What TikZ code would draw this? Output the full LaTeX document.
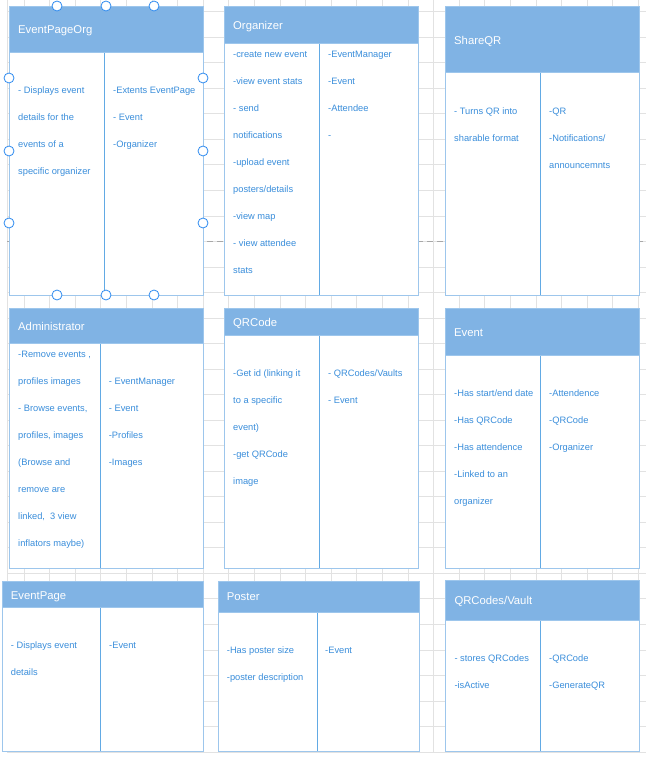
\documentclass[tikz,border=0pt]{standalone}
\usepackage{fontspec}
\setmainfont{Liberation Sans}
\definecolor{hdr}{HTML}{80B3E4}
\definecolor{bordc}{HTML}{9DC6EC}
\definecolor{divc}{HTML}{62AAE4}
\definecolor{txtc}{HTML}{3A8EDB}
\definecolor{gridc}{HTML}{E2E2E2}
\definecolor{pagec}{HTML}{A8A8A8}
\definecolor{selc}{HTML}{2E8BF0}
\tikzset{
  body/.style={anchor=base west, inner sep=0pt, align=left, text=txtc,
    font=\fontsize{9.3}{27}\selectfont},
  ttl/.style={anchor=base west, inner sep=0pt, text=white,
    font=\fontsize{11.3}{13}\selectfont},
  bord/.style={draw=bordc, line width=0.9pt},
  divl/.style={draw=divc, line width=0.9pt},
  gridl/.style={draw=gridc, line width=0.8pt},
  handle/.style={circle, draw=selc, fill=white, line width=0.8pt,
    minimum size=10pt, inner sep=0pt},
}
\newcommand\umlbox[7]{%
  \fill[white] (#2,#3) rectangle (#4,#5);
  \fill[hdr] (#2,#3) rectangle (#4,#6);
  \draw[divl] (#7,#6) -- (#7,#5);
  \draw[bord] (#2,#3) rectangle (#4,#5);
  \draw[bord] (#2,#6) -- (#4,#6);
  \coordinate (#1) at (#2,#3);
}
\begin{document}
\begin{tikzpicture}[x=1pt,y=-1pt]
\useasboundingbox (0,0) rectangle (646,762);
\fill[white] (0,0) rectangle (646,762);
% grid
\begin{scope}
\clip (7,0) rectangle (646,752);
\foreach \k in {0,...,24} { \draw[gridl] ({24+25.6*\k},0) -- ({24+25.6*\k},752); }
\foreach \k in {0,...,29} { \draw[gridl] (7,{11.7+25.53*\k}) -- (646,{11.7+25.53*\k}); }
\end{scope}
\draw[gridl] (7,0) -- (7,752) -- (646,752);
\draw[pagec, line width=0.8pt, dash pattern=on 6pt off 4pt] (7,241.7) -- (646,241.7);

% Row 1 (body nodes are placed at the baseline of their LAST line)
\umlbox{b1}{9}{6}{203}{295}{52}{104}
\node[ttl] (t1) at (18,34) {EventPageOrg};
\node[body] (l1) at (18,174.3) {- Displays event\\details for the\\events of a\\specific organizer};
\node[body] (r1) at (113,147.3) {-Extents EventPage\\- Event\\-Organizer};

\umlbox{b2}{224.5}{6}{418}{295}{43}{319}
\node[ttl] (t2) at (233,29.7) {Organizer};
\node[body] (l2) at (233,273.3) {-create new event\\-view event stats\\- send\\notifications\\-upload event\\posters/details\\-view map\\- view attendee\\stats};
\node[body] (r2) at (328,138.3) {-EventManager\\-Event\\-Attendee\\-};

\umlbox{b3}{445}{6}{639}{295}{72}{540}
\node[ttl] (t3) at (454,44.7) {ShareQR};
\node[body] (l3) at (454,141.3) {- Turns QR into\\sharable format};
\node[body] (r3) at (549,168.3) {-QR\\-Notifications/\\announcemnts};

% Row 2
\umlbox{b4}{9}{308}{203}{568}{343}{100.7}
\node[ttl] (t4) at (18,330) {Administrator};
\node[body] (l4) at (18,546.3) {-Remove events ,\\profiles images\\- Browse events,\\profiles, images\\(Browse and\\remove are\\linked,~ 3 view\\inflators maybe)};
\node[body] (r4) at (108.7,465.3) {- EventManager\\- Event\\-Profiles\\-Images};

\umlbox{b5}{224.5}{308}{418}{568}{335}{319}
\node[ttl] (t5) at (233,326.7) {QRCode};
\node[body] (l5) at (233,484) {-Get id (linking it\\to a specific\\event)\\-get QRCode\\image};
\node[body] (r5) at (328,403) {- QRCodes/Vaults\\- Event};

\umlbox{b6}{445}{308}{639}{568}{355}{540}
\node[ttl] (t6) at (454,336.3) {Event};
\node[body] (l6) at (454,504.3) {-Has start/end date\\-Has QRCode\\-Has attendence\\-Linked to an\\organizer};
\node[body] (r6) at (549,450.3) {-Attendence\\-QRCode\\-Organizer};

% Row 3
\umlbox{b7}{2}{581}{203}{751}{607}{100}
\node[ttl] (t7) at (10.7,599) {EventPage};
\node[body] (l7) at (10.7,675.3) {- Displays event\\details};
\node[body] (r7) at (109,648.3) {-Event};

\umlbox{b8}{218}{581}{419}{751}{612}{317}
\node[ttl] (t8) at (226.7,600.7) {Poster};
\node[body] (l8) at (226.7,680.6) {-Has poster size\\-poster description};
\node[body] (r8) at (325,653.6) {-Event};

\umlbox{b9}{445}{580}{639}{751}{620}{540}
\node[ttl] (t9) at (454.3,604.7) {QRCodes/Vault};
\node[body] (l9) at (454.3,688.6) {- stores QRCodes\\-isActive};
\node[body] (r9) at (549,688.6) {-QRCode\\-GenerateQR};

% selection handles on EventPageOrg
\foreach \hx/\hy [count=\i] in {57/6,106/6,154/6,57/295,106/295,154/295,9/78,9/151,9/223,203/78,203/151,203/223}
  { \node[handle] (h\i) at (\hx,\hy) {}; }
\end{tikzpicture}
\end{document}
